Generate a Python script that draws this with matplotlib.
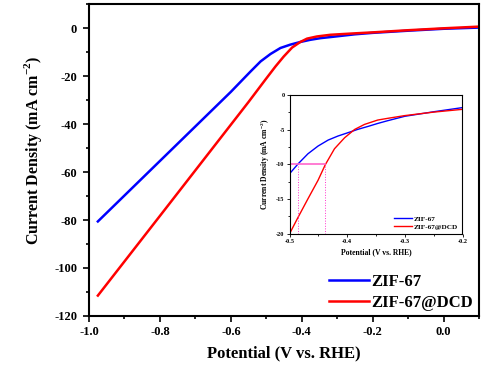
import matplotlib
matplotlib.use('Agg')
import matplotlib.pyplot as plt
from matplotlib.ticker import MultipleLocator

plt.rcParams['font.family'] = ['Liberation Serif', 'DejaVu Serif']
plt.rcParams['font.weight'] = 'bold'
plt.rcParams['mathtext.fontset'] = 'custom'
plt.rcParams['mathtext.rm'] = 'Liberation Serif:bold'
plt.rcParams['mathtext.bf'] = 'Liberation Serif:bold'
plt.rcParams['axes.unicode_minus'] = False

# main panel
pot_blue = [-0.975, -0.8, -0.7, -0.6, -0.545, -0.516, -0.488, -0.46, -0.432, -0.404,
            -0.376, -0.347, -0.319, -0.25, -0.2, -0.1, 0.0, 0.1]
cur_blue = [-80.6, -55.4, -41.0, -26.6, -18.2, -13.9, -10.8, -8.3, -6.9, -5.8,
            -4.9, -4.2, -3.75, -2.6, -2.0, -1.1, -0.3, 0.2]
pot_red = [-0.975, -0.8, -0.7, -0.6, -0.55, -0.502, -0.474, -0.451, -0.427, -0.404,
           -0.385, -0.357, -0.319, -0.25, -0.2, -0.1, 0.0, 0.1]
cur_red = [-111.5, -78.3, -59.3, -40.3, -30.8, -21.4, -16.0, -11.9, -8.1, -5.8,
           -4.4, -3.5, -2.8, -2.2, -1.8, -0.9, -0.1, 0.6]

# inset (zoomed LSV near onset)
ins_pot_blue = [-0.5, -0.485, -0.468, -0.4505, -0.433, -0.416, -0.399, -0.382, -0.364,
                -0.347, -0.33, -0.3, -0.25, -0.2]
ins_cur_blue = [-11.37, -9.93, -8.49, -7.38, -6.52, -5.94, -5.47, -4.99, -4.56,
                -4.13, -3.74, -3.1, -2.45, -1.85]
ins_pot_red = [-0.5, -0.485, -0.468, -0.4505, -0.438, -0.422, -0.4045, -0.387, -0.37,
               -0.347, -0.33, -0.3, -0.25, -0.2]
ins_cur_red = [-20.0, -17.6, -14.96, -12.3, -10.07, -7.77, -6.19, -4.99, -4.27,
               -3.64, -3.4, -3.0, -2.5, -2.1]
eta_blue = -0.486
eta_red = -0.438
j_ref = -10

labels = ['ZIF-67', 'ZIF-67@DCD']
colors = ['#0000FF', '#FF0000']

fig = plt.figure(figsize=(5, 3.7), dpi=100)
ax = fig.add_axes([0.178, 0.146, 0.78, 0.843])

ax.plot(pot_blue, cur_blue, color=colors[0], lw=1.8, label=labels[0])
ax.plot(pot_red, cur_red, color=colors[1], lw=1.8, label=labels[1])
ax.set_xlim(-1.0, 0.1)
ax.set_ylim(-120, 10)
ax.xaxis.set_major_locator(MultipleLocator(0.2))
ax.xaxis.set_minor_locator(MultipleLocator(0.1))
ax.yaxis.set_major_locator(MultipleLocator(20))
ax.yaxis.set_minor_locator(MultipleLocator(10))
ax.tick_params(which='both', direction='out', width=1.2, labelsize=9)
ax.tick_params(which='major', length=4.5, pad=4)
ax.tick_params(axis='x', which='major', pad=3)
ax.tick_params(which='minor', length=2.5)
for s in ax.spines.values():
    s.set_linewidth(1.5)
ax.xaxis.set_major_formatter(plt.FuncFormatter(lambda v, p: f'{v:.1f}'))
ax.set_xlabel('Potential (V vs. RHE)', fontsize=12, fontweight='bold', labelpad=5)
ax.set_ylabel('Current Density (mA cm$^{-2}$)', fontsize=11.5, fontweight='bold', labelpad=7)
ax.yaxis.label.set_y(0.53)
ax.legend(loc='lower right', frameon=False, fontsize=12, handlelength=2.4,
          handletextpad=0.15, labelspacing=0.3, borderaxespad=0.25,
          bbox_to_anchor=(1.012, -0.018))

# inset
axi = fig.add_axes([0.579, 0.368, 0.346, 0.376])
axi.plot(ins_pot_blue, ins_cur_blue, color=colors[0], lw=1.0, label=labels[0])
axi.plot(ins_pot_red, ins_cur_red, color=colors[1], lw=1.0, label=labels[1])
axi.plot([-0.5, eta_red], [j_ref, j_ref], color='#FF66CC', lw=1.2)
axi.plot([eta_blue, eta_blue], [-20, j_ref], color='#FF33CC', lw=0.7, ls=':')
axi.plot([eta_red, eta_red], [-20, j_ref], color='#FF33CC', lw=0.7, ls=':')
axi.set_xlim(-0.5, -0.2)
axi.set_ylim(-20, 0)
axi.xaxis.set_major_locator(MultipleLocator(0.1))
axi.xaxis.set_minor_locator(MultipleLocator(0.05))
axi.yaxis.set_major_locator(MultipleLocator(5))
axi.yaxis.set_minor_locator(MultipleLocator(2.5))
axi.xaxis.set_major_formatter(plt.FuncFormatter(lambda v, p: f'{v:.1f}'))
axi.tick_params(which='both', direction='out', width=0.6, labelsize=4.5, pad=1.5)
axi.tick_params(which='major', length=2)
axi.tick_params(which='minor', length=1.2)
for s in axi.spines.values():
    s.set_linewidth(0.8)
axi.set_xlabel('Potential (V vs. RHE)', fontsize=5.5, fontweight='bold', labelpad=3)
axi.set_ylabel('Current Density (mA cm$^{-2}$)', fontsize=5.5, fontweight='bold', labelpad=3)
axi.legend(loc='lower right', frameon=False, fontsize=5.2, handlelength=2.5,
           handletextpad=0.3, labelspacing=0.25, borderaxespad=0.2)

fig.savefig('out.png', dpi=100)
